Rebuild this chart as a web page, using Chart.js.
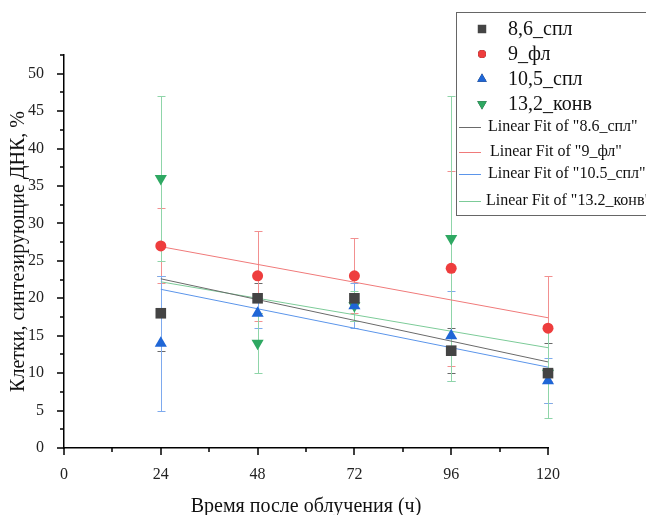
<!DOCTYPE html>
<html>
<head>
<meta charset="utf-8">
<script src="https://cdn.jsdelivr.net/npm/chart.js@4.4.1/dist/chart.umd.min.js"></script>
<style>
  body { margin: 0; background: #fff; }
  #wrap { width: 646px; height: 515px; }
</style>
</head>
<body>
<div id="wrap"><canvas id="chart" width="646" height="515"></canvas></div>
<script>
// data
const hours = [24, 48, 72, 96, 120];
const names = ['8,6_спл', '9_фл', '10,5_спл', '13,2_конв'];
const fitNames = ['Linear Fit of "8.6_спл"', 'Linear Fit of "9_фл"', 'Linear Fit of "10.5_спл"', 'Linear Fit of "13.2_конв"'];

const spl86 = [18, 20, 20, 13, 10];
const fl9 = [27, 23, 23, 24, 16];
const spl105 = [14, 18, 19, 15, 9];
const konv132 = [36, 14, 19, 28, 10];

const err86 = [5, 2, 3, 3, 4];
const err9 = [5, 6, 5, 13, 7];
const err105 = [9, 2, 3, 6, 3];
const err132 = [11, 4, 2, 19, 6];

const fitX = [24, 120];
const fit86 = [22.6, 11.5];
const fit9 = [26.9, 17.4];
const fit105 = [21.2, 10.8];
const fit132 = [22.2, 13.4];

const xTicks = [0, 24, 48, 72, 96, 120];

let markerColours = ['#444444', '#ee3d3d', '#1f66d6', '#2ea862'];
let errColours = ['#6a6a6a', '#f29090', '#7eaaee', '#8fd5a9'];
let fitColours = ['#6a6a6a', '#f07a7a', '#5b95ea', '#7ccb98'];
let styles = ['rect', 'circle', 'triangle', 'triangle'];
let rotations = [0, 0, 0, 180];
let radii = [7.5, 5.5, 7, 7];

const series = [spl86, fl9, spl105, konv132];
const errors = [err86, err9, err105, err132];
const fits = [fit86, fit9, fit105, fit132];

const serif = "'Liberation Serif', 'DejaVu Serif', serif";

let datasets = [];
series.forEach((vals, i) => {
    datasets.push({
        type: 'scatter',
        label: names[i],
        data: hours.map((h, j) => ({ x: h, y: vals[j] })),
        pointStyle: styles[i],
        rotation: rotations[i],
        pointRadius: radii[i],
        pointHoverRadius: radii[i],
        backgroundColor: markerColours[i],
        borderColor: markerColours[i],
        borderWidth: 0,
        clip: false,
        order: 1,
        errs: errors[i],
        errColour: errColours[i],
    });
});
fits.forEach((vals, i) => {
    datasets.push({
        type: 'line',
        label: fitNames[i],
        data: fitX.map((x, j) => ({ x: x, y: vals[j] })),
        borderColor: fitColours[i],
        borderWidth: 1,
        pointRadius: 0,
        fill: false,
        clip: false,
        order: 5,
    });
});

const errorBars = {
    id: 'errorBars',
    beforeDatasetsDraw(chart) {
        const ctx = chart.ctx;
        const xs = chart.scales.x;
        const ys = chart.scales.y;
        ctx.save();
        ctx.lineWidth = 1;
        chart.data.datasets.forEach((ds) => {
            if (!ds.errs) return;
            ctx.strokeStyle = ds.errColour;
            ds.data.forEach((p, j) => {
                let px = Math.round(xs.getPixelForValue(p.x)) + 0.5;
                let top = Math.round(ys.getPixelForValue(p.y + ds.errs[j])) + 0.5;
                let bot = Math.round(ys.getPixelForValue(p.y - ds.errs[j])) + 0.5;
                ctx.beginPath();
                ctx.moveTo(px, top);
                ctx.lineTo(px, bot);
                ctx.moveTo(px - 4, top);
                ctx.lineTo(px + 4, top);
                ctx.moveTo(px - 4, bot);
                ctx.lineTo(px + 4, bot);
                ctx.stroke();
            });
        });
        ctx.restore();
    },
};

const axisTicks = {
    id: 'axisTicks',
    afterDraw(chart) {
        const ctx = chart.ctx;
        const xs = chart.scales.x;
        const ys = chart.scales.y;
        ctx.save();
        ctx.strokeStyle = '#000';
        ctx.lineWidth = 1.5;
        ctx.beginPath();
        for (let v = 0; v <= 120; v += 12) {
            let px = Math.round(xs.getPixelForValue(v));
            let len = v % 24 === 0 ? 7 : 4;
            ctx.moveTo(px, ys.bottom);
            ctx.lineTo(px, ys.bottom + len);
        }
        for (let v = 0; v <= 52.5; v += 2.5) {
            let py = Math.round(ys.getPixelForValue(v));
            let len = v % 5 === 0 ? 7 : 4;
            ctx.moveTo(xs.left, py);
            ctx.lineTo(xs.left - len, py);
        }
        ctx.stroke();
        ctx.restore();
    },
};

const boxLegend = {
    id: 'boxLegend',
    afterDraw(chart) {
        const ctx = chart.ctx;
        ctx.save();
        ctx.strokeStyle = '#666';
        ctx.lineWidth = 1;
        ctx.fillStyle = '#fff';
        ctx.fillRect(456.5, 12.5, 200, 203);
        ctx.strokeRect(456.5, 12.5, 200, 203);

        let rowY = [29, 54, 79, 104];
        ctx.textBaseline = 'middle';
        names.forEach((n, i) => {
            Chart.helpers.drawPoint(ctx, {
                pointStyle: styles[i],
                rotation: rotations[i],
                radius: radii[i] - 1.5,
                borderWidth: 0,
            }, 482, rowY[i]);
            ctx.fillStyle = markerColours[i];
            ctx.fill();
            ctx.fillStyle = '#111';
            ctx.font = '20px ' + serif;
            ctx.fillText(n, 508, rowY[i] + 1);
        });

        let lineY = [127, 152, 174, 201];
        let textX = [488, 490, 488, 486];
        fitNames.forEach((n, i) => {
            ctx.strokeStyle = fitColours[i];
            ctx.beginPath();
            ctx.moveTo(459, lineY[i] + 0.5);
            ctx.lineTo(481, lineY[i] + 0.5);
            ctx.stroke();
            ctx.fillStyle = '#111';
            ctx.font = '16px ' + serif;
            ctx.fillText(n, textX[i], lineY[i]);
        });
        ctx.restore();
    },
};

let chart = new Chart(document.getElementById('chart').getContext('2d'), {
    data: { datasets: datasets },
    options: {
        responsive: false,
        animation: false,
        events: [],
        layout: { padding: { left: 0, right: 98, top: 55, bottom: 0 } },
        plugins: { legend: { display: false }, tooltip: { enabled: false } },
        scales: {
            x: {
                type: 'linear',
                min: 0,
                max: 120,
                afterBuildTicks: (scale) => {
                    scale.ticks = xTicks.map((v) => ({ value: v }));
                },
                afterFit: (scale) => {
                    scale.height = 67;
                },
                grid: { display: false },
                border: { display: true, color: '#000', width: 1.5 },
                ticks: {
                    padding: 9,
                    color: '#222',
                    maxRotation: 0,
                    font: { family: serif, size: 16 },
                },
                title: {
                    display: true,
                    text: 'Время после облучения (ч)',
                    color: '#111',
                    font: { family: serif, size: 20 },
                    padding: { top: 0, bottom: -4 },
                },
            },
            y: {
                type: 'linear',
                min: 0,
                max: 52.5,
                afterFit: (scale) => {
                    scale.width = 64;
                },
                grid: { display: false },
                border: { display: true, color: '#000', width: 1.5 },
                ticks: {
                    stepSize: 5,
                    padding: 12,
                    color: '#222',
                    font: { family: serif, size: 16 },
                    callback: (v) => (v % 5 === 0 ? v : ''),
                },
                title: {
                    display: true,
                    text: 'Клетки, синтезирующие ДНК, %',
                    color: '#111',
                    font: { family: serif, size: 20 },
                    padding: { top: 7, bottom: 0 },
                },
            },
        },
    },
    plugins: [errorBars, axisTicks, boxLegend],
});
</script>
</body>
</html>
